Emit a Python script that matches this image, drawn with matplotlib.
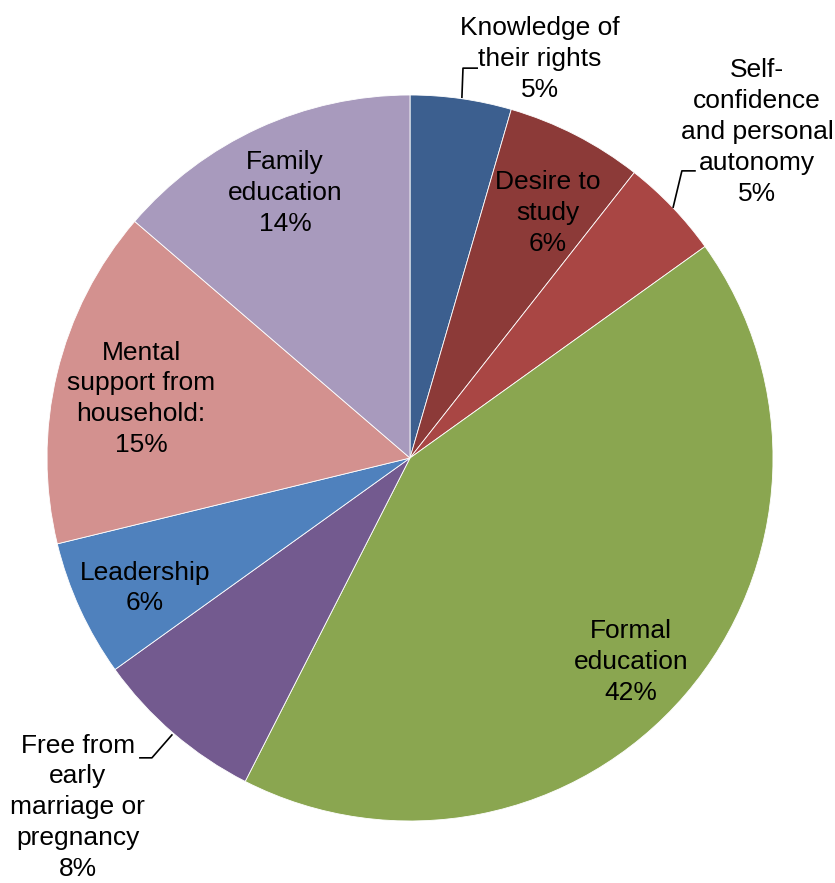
import matplotlib
matplotlib.use("Agg")
import matplotlib.pyplot as plt

# slice order: clockwise from 12 o'clock
categories = [
    "Knowledge of\ntheir rights",
    "Desire to\nstudy",
    "Self-\nconfidence\nand personal\nautonomy",
    "Formal\neducation",
    "Free from\nearly\nmarriage or\npregnancy",
    "Leadership",
    "Mental\nsupport from\nhousehold:",
    "Family\neducation",
]
shares = [4.5, 6.1, 4.5, 42.4, 7.6, 6.1, 15.1, 13.7]
shown_pct = [5, 6, 5, 42, 8, 6, 15, 14]
colors = ["#3C5F8F", "#8C3A38", "#A94644", "#8AA650",
          "#735A8F", "#4F81BD", "#D3918F", "#A89ABD"]

# label centres (data units, radius = 1)
label_pos = [(0.358, 1.099), (0.380, 0.675), (0.956, 0.898), (0.609, -0.562),
             (-0.915, -0.962), (-0.730, -0.358), (-0.741, 0.163), (-0.344, 0.730)]
# leader lines for the labels placed outside the pie
leaders = {
    0: [(0.143, 0.994), (0.146, 1.074), (0.185, 1.074)],
    2: [(0.725, 0.691), (0.749, 0.791), (0.785, 0.791)],
    4: [(-0.656, -0.763), (-0.711, -0.826), (-0.744, -0.826)],
}

W, H = 835, 883
cx, cy, r = 410, 458, 363

fig = plt.figure(figsize=(W / 100, H / 100), dpi=100)
ax = fig.add_axes([0, 0, 1, 1])
ax.pie(shares, colors=colors, startangle=90, counterclock=False, radius=1,
       wedgeprops=dict(edgecolor="white", linewidth=0.6))
ax.set_aspect("auto")
ax.set_xlim(-cx / r, (W - cx) / r)
ax.set_ylim(-(H - cy) / r, cy / r)
ax.axis("off")

for i, (name, pct) in enumerate(zip(categories, shown_pct)):
    x, y = label_pos[i]
    ax.text(x, y, f"{name}\n{pct}%", ha="center", va="center",
            fontsize=19, family="Liberation Sans", color="black",
            linespacing=1.36)

for pts in leaders.values():
    xs, ys = zip(*pts)
    ax.plot(xs, ys, color="black", lw=1.2)

fig.savefig("out.png", dpi=100)
